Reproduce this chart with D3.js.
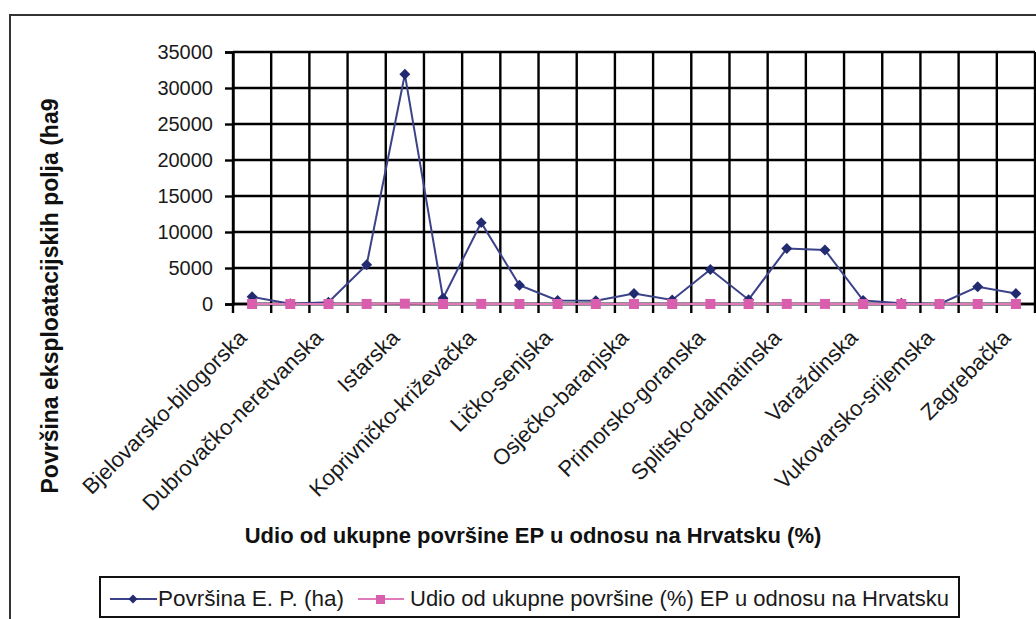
<!DOCTYPE html>
<html>
<head>
<meta charset="utf-8">
<script src="https://cdn.jsdelivr.net/npm/d3@7"></script>
<style>
html,body{margin:0;padding:0;background:#fff;}
svg{display:block;font-family:Arial,"Liberation Sans",sans-serif;}
</style>
</head>
<body>
<svg id="chart" width="1036" height="619"></svg>
<script>
const categories = ["Bjelovarsko-bilogorska","Brodsko-posavska","Dubrovačko-neretvanska","Grad Zagreb","Istarska","Karlovačka","Koprivničko-križevačka","Krapinsko-zagorska","Ličko-senjska","Međimurska","Osječko-baranjska","Požeško-slavonska","Primorsko-goranska","Sisačko-moslavačka","Splitsko-dalmatinska","Šibensko-kninska","Varaždinska","Virovitičko-podravska","Vukovarsko-srijemska","Zadarska","Zagrebačka"];
const povrsina = [1000, 50, 250, 5450, 31900, 800, 11300, 2600, 500, 450, 1450, 550, 4800, 600, 7700, 7500, 500, 100, 0, 2400, 1450];
const udio = [1.2, 0.1, 0.3, 6.7, 39.2, 1.0, 13.9, 3.2, 0.6, 0.6, 1.8, 0.7, 5.9, 0.7, 9.5, 9.2, 0.6, 0.1, 0.0, 3.0, 1.8];
const yTicks = [0, 5000, 10000, 15000, 20000, 25000, 30000, 35000];
const seriesNames = ["Površina E. P. (ha)", "Udio od ukupne površine (%) EP u odnosu na Hrvatsku"];
const yTitle = "Površina eksploatacijskih polja (ha9";
const xTitle = "Udio od ukupne površine EP u odnosu na Hrvatsku (%)";

const navy = "#222a70", navyLine = "#3b4288", pink = "#d95fae", pinkLine = "#e07abb";
const svg = d3.select("#chart");
const L = 233, R = 1035, T = 52, B = 304;

// outer frame
svg.append("rect").attr("x", 10).attr("y", 15).attr("width", 1040).attr("height", 620)
  .attr("fill", "none").attr("stroke", "#333").attr("stroke-width", 2);

const x = d3.scaleBand().domain(categories).range([L, R]).padding(0);
const y = d3.scaleLinear().domain([0, 35000]).range([B, T]);

// horizontal gridlines
svg.append("g").selectAll("line").data(yTicks).join("line")
  .attr("x1", L).attr("x2", R).attr("y1", d => y(d)).attr("y2", d => y(d))
  .attr("stroke", "#000").attr("stroke-width", 2.4);
// vertical gridlines at category boundaries
const bounds = categories.map(c => x(c)).concat([R]);
svg.append("g").selectAll("line").data(bounds).join("line")
  .attr("x1", d => d).attr("x2", d => d).attr("y1", T).attr("y2", B + 9)
  .attr("stroke", "#000").attr("stroke-width", 2.4);

// y axis
const yAxis = d3.axisLeft(y).tickValues(yTicks).tickSize(8).tickPadding(12).tickFormat(d3.format("d"));
const gy = svg.append("g").attr("transform", `translate(${L},0)`).call(yAxis);
gy.select(".domain").attr("stroke", "#000").attr("stroke-width", 2.4);
gy.selectAll(".tick line").attr("stroke", "#000").attr("stroke-width", 2.4);
gy.selectAll(".tick text").attr("font-size", 20).attr("fill", "#1a1a1a")
  .attr("font-family", "Arial, 'Liberation Sans', sans-serif");

// x axis line
svg.append("line").attr("x1", L).attr("x2", R).attr("y1", B).attr("y2", B)
  .attr("stroke", "#000").attr("stroke-width", 2.4);

// x labels (every other)
svg.append("g").selectAll("text").data(categories.filter((c, i) => i % 2 === 0)).join("text")
  .attr("transform", d => `translate(${x(d) + x.bandwidth() / 2 - 4},339) rotate(-45)`)
  .attr("text-anchor", "end").attr("font-size", 22).attr("fill", "#1a1a1a").text(d => d);

// lines
const lineGen = d3.line().x((d, i) => x(categories[i]) + x.bandwidth() / 2).y(d => y(d));
svg.append("path").datum(povrsina).attr("d", lineGen).attr("fill", "none")
  .attr("stroke", navyLine).attr("stroke-width", 2);
svg.append("path").datum(udio).attr("d", lineGen).attr("fill", "none")
  .attr("stroke", pinkLine).attr("stroke-width", 2.2);

svg.append("g").selectAll("path").data(povrsina).join("path")
  .attr("transform", (d, i) => `translate(${x(categories[i]) + x.bandwidth() / 2},${y(d)}) rotate(45)`)
  .attr("d", d3.symbol().type(d3.symbolSquare).size(60)()).attr("fill", navy);
svg.append("g").selectAll("rect").data(udio).join("rect")
  .attr("x", (d, i) => x(categories[i]) + x.bandwidth() / 2 - 5)
  .attr("y", d => y(d) - 5).attr("width", 10).attr("height", 10).attr("fill", pink);

// titles
svg.append("text").attr("transform", "translate(58,296) rotate(-90)")
  .attr("text-anchor", "middle").attr("font-size", 23).attr("font-weight", "bold").attr("fill", "#111").text(yTitle);
svg.append("text").attr("x", 533).attr("y", 543)
  .attr("text-anchor", "middle").attr("font-size", 22).attr("font-weight", "bold").attr("fill", "#111").text(xTitle);

// legend
svg.append("rect").attr("x", 100).attr("y", 577).attr("width", 859).attr("height", 40)
  .attr("fill", "#fff").attr("stroke", "#111").attr("stroke-width", 2);
const lg = svg.append("g");
lg.append("line").attr("x1", 110).attr("x2", 157).attr("y1", 599).attr("y2", 599).attr("stroke", navyLine).attr("stroke-width", 2);
lg.append("path").attr("transform", "translate(133,599) rotate(45)").attr("d", d3.symbol().type(d3.symbolSquare).size(40)()).attr("fill", navy);
lg.append("text").attr("x", 158).attr("y", 606).attr("font-size", 22.5).attr("fill", "#1a1a1a").text(seriesNames[0]);
lg.append("line").attr("x1", 358).attr("x2", 404).attr("y1", 599).attr("y2", 599).attr("stroke", pinkLine).attr("stroke-width", 2.2);
lg.append("rect").attr("x", 376).attr("y", 595).attr("width", 9).attr("height", 9).attr("fill", pink);
lg.append("text").attr("x", 410).attr("y", 606).attr("font-size", 22).attr("fill", "#1a1a1a").text(seriesNames[1]);
</script>
</body>
</html>
